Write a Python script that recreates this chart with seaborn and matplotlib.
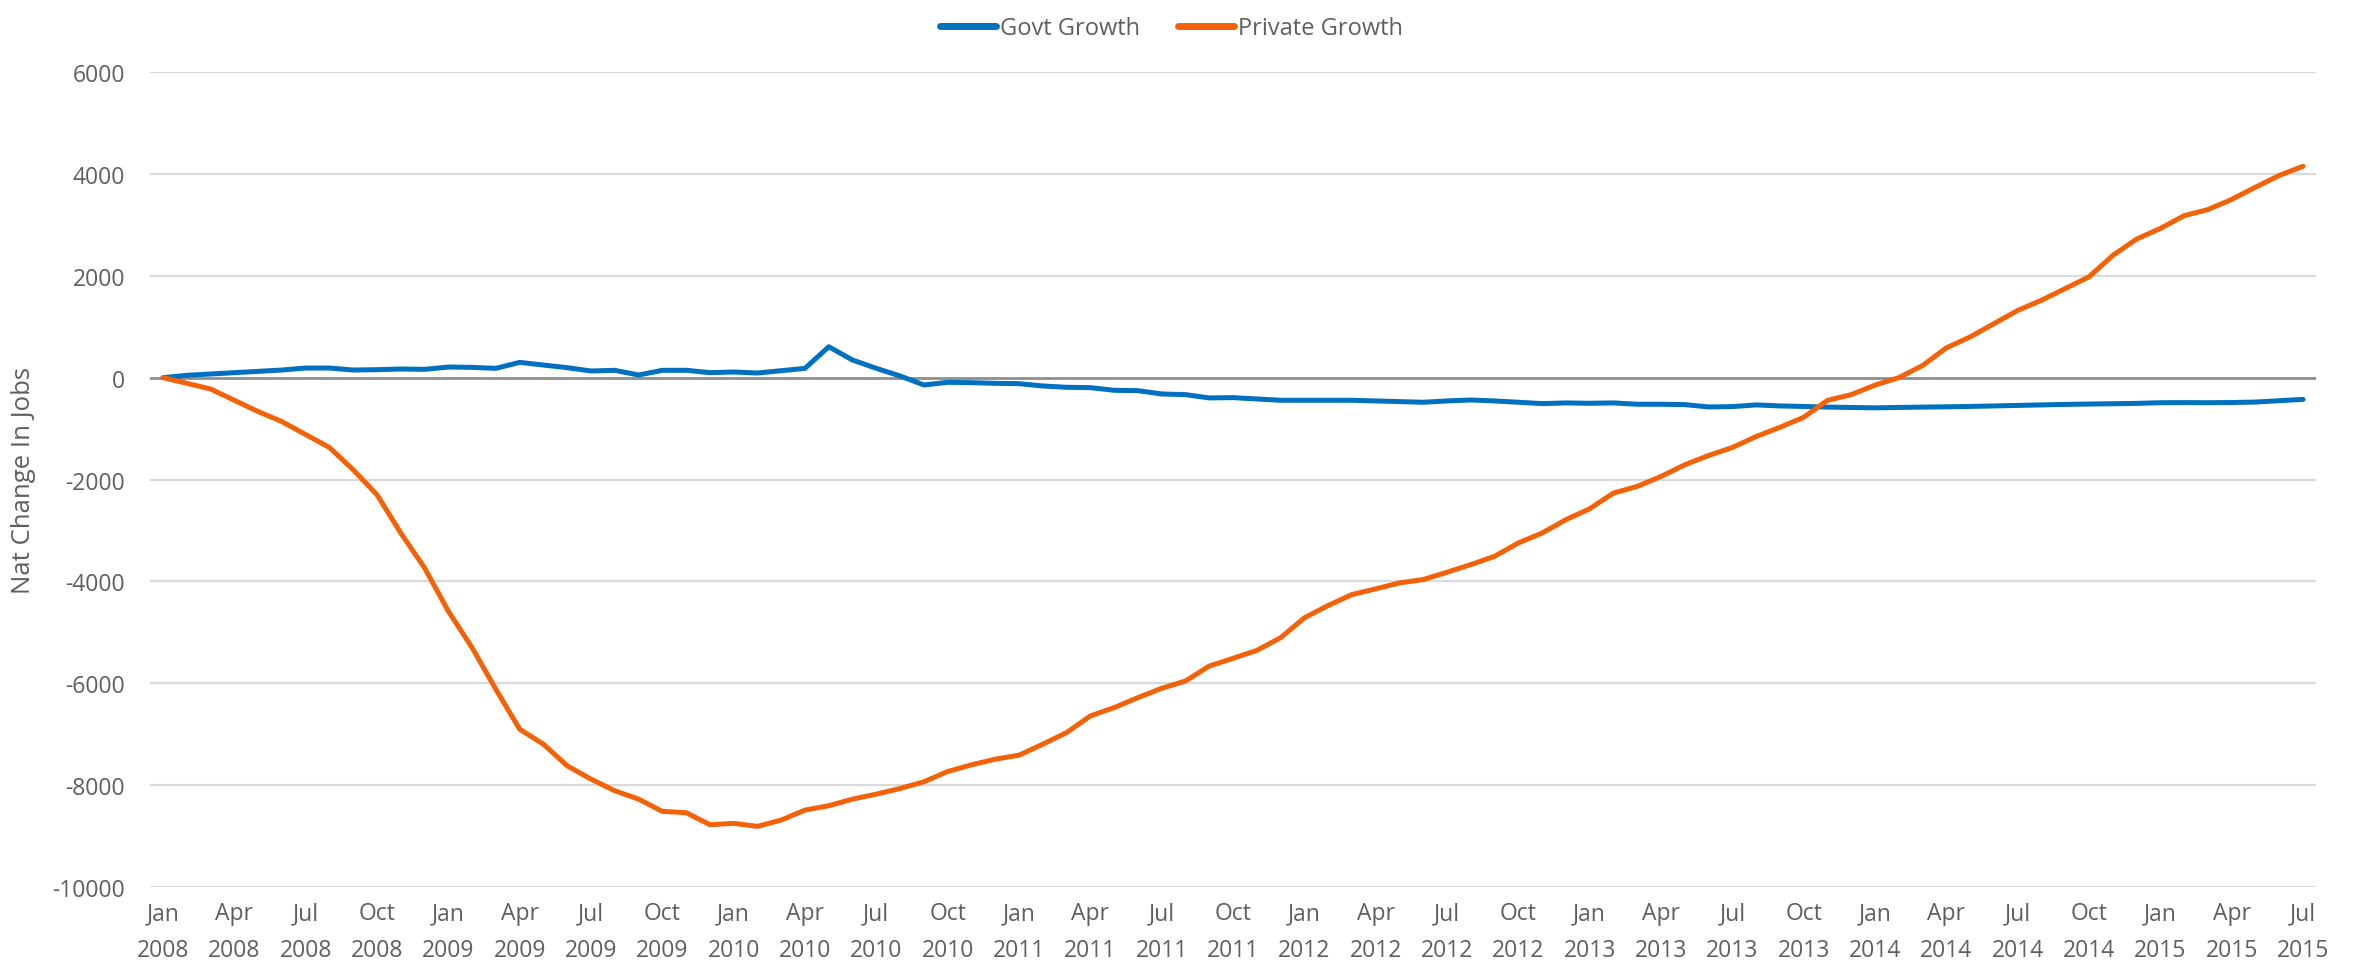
import numpy as np
import pandas as pd
import matplotlib
matplotlib.use("Agg")
import matplotlib.pyplot as plt
import seaborn as sns

# monthly data, Jan 2008 - Jul 2015 (thousands)
months = pd.date_range("2008-01-01", "2015-07-01", freq="MS")

govt_growth = [
    0, 46, 72, 98, 124, 150, 189, 189, 150, 157, 170, 163,
    209, 202, 183, 300, 248, 196, 131, 144, 52, 144, 145, 98,
    111, 91, 137, 183, 607, 346, 183, 33, -144, -91, -98, -111,
    -118, -163, -189, -196, -248, -255, -320, -333, -398, -392, -418, -444,
    -444, -444, -444, -457, -470, -483, -457, -438, -457, -483, -509, -496,
    -503, -496, -522, -522, -529, -575, -568, -535, -555, -565, -578, -585,
    -592, -585, -578, -572, -565, -555, -545, -535, -525, -518, -512, -505,
    -492, -490, -492, -488, -479, -452, -426,
]

private_growth = [
    0, -111, -222, -444, -666, -862, -1117, -1371, -1809, -2299, -3050, -3735,
    -4584, -5302, -6119, -6902, -7196, -7621, -7882, -8110, -8274, -8515, -8540, -8776,
    -8750, -8809, -8685, -8489, -8404, -8274, -8176, -8065, -7934, -7732, -7601, -7490,
    -7412, -7196, -6968, -6641, -6478, -6282, -6099, -5955, -5662, -5510, -5355, -5106,
    -4715, -4473, -4258, -4147, -4029, -3964, -3820, -3670, -3507, -3245, -3050, -2788,
    -2573, -2266, -2135, -1939, -1711, -1528, -1371, -1156, -975, -778, -446, -333,
    -146, 0, 239, 585, 800, 1060, 1320, 1520, 1750, 1980, 2400, 2720,
    2930, 3180, 3300, 3500, 3740, 3970, 4150,
]

series_names = ["Govt Growth", "Private Growth"]
series_colors = ["#0070c0", "#f46207"]
y_ticks = [-10000, -8000, -6000, -4000, -2000, 0, 2000, 4000, 6000]

df = pd.DataFrame({
    "pos": np.arange(len(months)),
    series_names[0]: govt_growth,
    series_names[1]: private_growth,
})
long_df = df.melt(id_vars="pos", var_name="series", value_name="value")

sns.set_style("white")
plt.rcParams["font.family"] = ["Open Sans", "DejaVu Sans"]
text_color = "#5f5f5f"

fig = plt.figure(figsize=(23.61, 9.70), dpi=100)
ax = fig.add_axes([0.0635, 0.0845, 0.9175, 0.8402])

# gridlines
for t in y_ticks:
    if t == 0:
        ax.axhline(t, color="#8e8e8e", lw=2.0, zorder=1)
    else:
        ax.axhline(t, color="#dadada", lw=1.6, zorder=1)

sns.lineplot(data=long_df, x="pos", y="value", hue="series",
             hue_order=series_names, palette=series_colors,
             linewidth=3.6, ax=ax, legend=False, zorder=3)

ax.set_xlim(-0.55, len(months) - 1 + 0.55)
ax.set_ylim(-10000, 6000)
ax.set_yticks(y_ticks)
ax.set_yticklabels([str(t) for t in y_ticks])

tick_pos = list(range(0, len(months), 3))
tick_lab = [months[i].strftime("%b\n%Y") for i in tick_pos]
ax.set_xticks(tick_pos)
ax.set_xticklabels(tick_lab, linespacing=1.7)

ax.tick_params(axis="both", length=0, labelsize=16.5, colors=text_color)
ax.tick_params(axis="y", pad=18)
ax.tick_params(axis="x", pad=10)
for s in ax.spines.values():
    s.set_visible(False)

ax.set_xlabel("")
ax.set_ylabel("Nat Change In Jobs", fontsize=18.5, color=text_color, labelpad=12)

handles = [plt.Line2D([], [], color=c, lw=5, solid_capstyle="round") for c in series_colors]
fig.legend(handles, series_names, loc="upper center", bbox_to_anchor=(0.496, 1.004),
           ncol=2, frameon=False, fontsize=17, handlelength=2.4,
           handletextpad=0.15, columnspacing=1.6, labelcolor=text_color)

fig.savefig("out.png", dpi=100, facecolor="white")
